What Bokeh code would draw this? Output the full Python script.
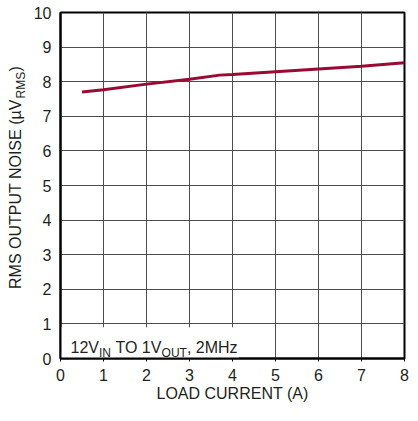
from math import pi
from bokeh.plotting import figure
from bokeh.layouts import row
from bokeh.models import Label, BoxAnnotation, FixedTicker, Range1d
from bokeh.embed import file_html
from bokeh.resources import INLINE

# Data
load_current = [0.5, 1, 2, 3, 3.7, 4, 5, 6, 7, 8]          # A
noise_rms = [7.70, 7.77, 7.93, 8.07, 8.19, 8.21, 8.29, 8.37, 8.45, 8.55]  # uV RMS
x_ticks = [0, 1, 2, 3, 4, 5, 6, 7, 8]
y_ticks = [0, 1, 2, 3, 4, 5, 6, 7, 8, 9, 10]

FONT = "Liberation Sans"
TXT = "#231f20"
LINE = "#9a0a32"
GRID = "#4d4d4d"
H = 405

p = figure(width=380, height=H, x_range=Range1d(0, 8), y_range=Range1d(0, 10),
           output_backend="svg", toolbar_location=None,
           min_border_left=28, min_border_right=6, min_border_top=12, min_border_bottom=47)
p.background_fill_color = "white"
p.border_fill_color = "white"
p.outline_line_color = "black"
p.outline_line_width = 2

p.xaxis.ticker = FixedTicker(ticks=x_ticks)
p.yaxis.ticker = FixedTicker(ticks=y_ticks)
p.xgrid.ticker = FixedTicker(ticks=x_ticks)
p.ygrid.ticker = FixedTicker(ticks=y_ticks)
for g in (p.xgrid, p.ygrid):
    g.grid_line_color = GRID
    g.grid_line_width = 1
    g.level = "image"

for ax in (p.xaxis, p.yaxis):
    ax.axis_line_color = "black"
    ax.axis_line_width = 2
    ax.major_tick_line_color = "black"
    ax.minor_tick_line_color = None
    ax.major_tick_in = 0
    ax.major_label_text_font = FONT
    ax.major_label_text_font_size = "16px"
    ax.major_label_text_color = TXT
p.xaxis.major_tick_out = 3
p.yaxis.major_tick_out = 0
p.xaxis.major_label_standoff = 7
p.yaxis.major_label_standoff = 9

p.xaxis.axis_label = "LOAD CURRENT (A)"
p.xaxis.axis_label_text_font = FONT
p.xaxis.axis_label_text_font_size = "16px"
p.xaxis.axis_label_text_font_style = "normal"
p.xaxis.axis_label_text_color = TXT
p.xaxis.axis_label_standoff = 1

# white box behind the condition note
p.add_layout(BoxAnnotation(left=0, right=4.15, bottom=0, top=0.9, fill_color="white",
                           fill_alpha=1, line_color=None, level="underlay"))

p.line(load_current, noise_rms, line_color=LINE, line_width=3)

def lab(fig, text, x, y, dx, dy, size, angle=0, units="data"):
    fig.add_layout(Label(x=x, y=y, x_units=units, y_units=units, x_offset=dx, y_offset=dy,
                         text=text, angle=angle, text_font=FONT, text_font_size=f"{size}px",
                         text_color=TXT, text_align="left", text_baseline="alphabetic"))

# condition note with subscripts
lab(p, "12V", 0, 0, 10, 11, 16)
lab(p, "IN", 0, 0, 38.5, 6, 12)
lab(p, "TO 1V", 0, 0, 54.9, 11, 16)
lab(p, "OUT", 0, 0, 101.1, 6, 12)
lab(p, ", 2MHz", 0, 0, 126.4, 11, 16)

# narrow strip holding the rotated y-axis title (with subscript)
t = figure(width=30, height=H, x_range=Range1d(0, 30), y_range=Range1d(0, H),
           output_backend="svg", toolbar_location=None, x_axis_type=None, y_axis_type=None,
           min_border_left=0, min_border_right=0, min_border_top=0, min_border_bottom=0)
t.outline_line_color = None
t.background_fill_color = "white"
t.border_fill_color = "white"
t.xgrid.visible = False
t.ygrid.visible = False
lab(t, "RMS OUTPUT NOISE (\u00b5V", 15, 69.5, 0, 0, 16, pi / 2, "screen")
lab(t, "RMS", 20, 260, 0, 0, 12, pi / 2, "screen")
lab(t, ")", 15, 287, 0, 0, 16, pi / 2, "screen")

layout = row(t, p, spacing=0)
open("out.html", "w").write(file_html(layout, INLINE))
